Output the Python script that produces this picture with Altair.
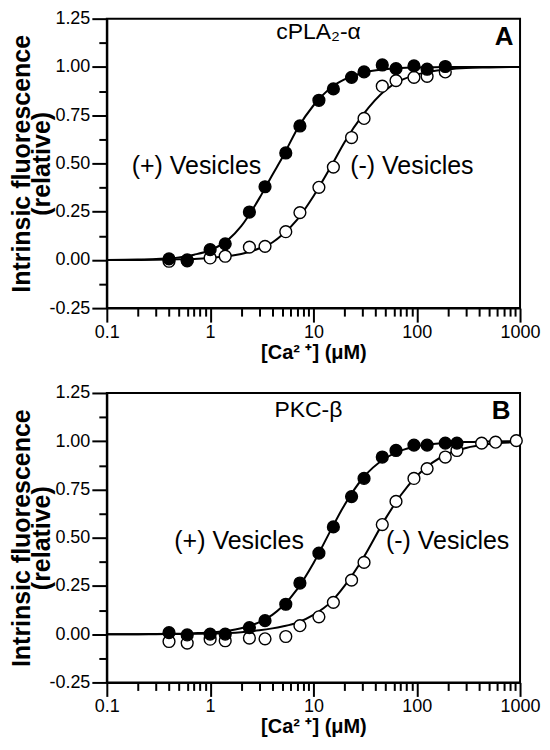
import altair as alt
import pandas as pd

FONT = "Liberation Sans"

# ---------------- data ----------------
# [Ca2+] (uM) at which points were measured
pts_x = [0.4, 0.6, 1.0, 1.4, 2.4, 3.4, 5.4, 7.4, 11.3, 15.6, 23.4, 30.9, 46.4,
         63, 94, 126, 189, 245, 425, 580, 920]

# Panel A (cPLA2-alpha)
a_plus_y = [0.005, 0.0, 0.053, 0.083, 0.248, 0.379, 0.554, 0.694, 0.827, 0.886,
            0.946, 0.974, 1.010, 0.991, 1.005, 0.988, 1.002]
a_minus_y = [-0.007, -0.005, 0.01, 0.019, 0.066, 0.07, 0.146, 0.245, 0.376, 0.481,
             0.634, 0.733, 0.90, 0.929, 0.946, 0.951, 0.974]

# Panel B (PKC-beta)
b_plus_y = [0.008, -0.004, 0.0, 0.0, 0.034, 0.07, 0.155, 0.265, 0.42, 0.556,
            0.713, 0.807, 0.918, 0.952, 0.98, 0.98, 0.99, 0.99]
b_minus_y = [-0.038, -0.046, -0.026, -0.034, -0.02, -0.024, -0.012, 0.044, 0.09,
             0.165, 0.28, 0.372, 0.568, 0.688, 0.807, 0.858, 0.918, 0.952, 0.99,
             0.995, 1.003]

# fitted curves
curve_x = [0.1, 0.2, 0.3, 0.5, 0.7, 1, 1.5, 2, 3, 4, 5, 7, 10, 15, 20, 30, 50,
           70, 100, 200, 300, 500, 1000]
a_plus_curve = [0.0, 0.002, 0.005, 0.013, 0.027, 0.05, 0.105, 0.175, 0.32, 0.44,
                0.53, 0.68, 0.80, 0.895, 0.935, 0.97, 0.988, 0.994, 0.997, 1.0,
                1.0, 1.0, 1.0]
a_minus_curve = [0.0, 0.0, 0.001, 0.003, 0.005, 0.01, 0.02, 0.03, 0.06, 0.09,
                 0.13, 0.21, 0.33, 0.49, 0.61, 0.75, 0.88, 0.93, 0.96, 0.987,
                 0.994, 0.997, 1.0]
b_plus_curve = [0.0, 0.0, 0.001, 0.002, 0.005, 0.009, 0.018, 0.031, 0.062, 0.10,
                0.143, 0.235, 0.368, 0.547, 0.67, 0.808, 0.913, 0.951, 0.974,
                0.992, 0.996, 0.998, 1.0]
b_minus_curve = [0.0, 0.0, 0.0, 0.001, 0.002, 0.003, 0.006, 0.01, 0.02, 0.03,
                 0.04, 0.06, 0.10, 0.17, 0.25, 0.39, 0.60, 0.72, 0.82, 0.935,
                 0.965, 0.985, 0.996]

# axis ticks
x_tick_values = [0.1, 0.2, 0.3, 0.4, 0.5, 0.6, 0.7, 0.8, 0.9,
                 1, 2, 3, 4, 5, 6, 7, 8, 9,
                 10, 20, 30, 40, 50, 60, 70, 80, 90,
                 100, 200, 300, 400, 500, 600, 700, 800, 900, 1000]
x_label_values = [0.1, 1, 10, 100, 1000]
y_tick_values = [-0.25, -0.125, 0.0, 0.125, 0.25, 0.375, 0.5, 0.625, 0.75,
                 0.875, 1.0, 1.125, 1.25]

# annotations
a_titles = ["cPLA₂-α", "A"]
a_title_x = [11.2, 700]
a_title_y = [1.143, 1.112]
a_labels = ["(+) Vesicles", "(-) Vesicles"]
a_label_x = [0.174, 22.7]
a_label_y = [0.444, 0.444]

b_titles = ["PKC-β", "B"]
b_title_x = [8.95, 656]
b_title_y = [1.126, 1.114]
b_labels = ["(+) Vesicles", "(-) Vesicles"]
b_label_x = [0.45, 50.4]
b_label_y = [0.440, 0.440]

# ---------------- chart ----------------
is_major_x = "indexof(" + str(x_label_values) + ", datum.value) >= 0"
is_major_y = "abs(datum.value * 4 - round(datum.value * 4)) < 0.000001"

xaxis = alt.Axis(
    values=x_tick_values, format="~g",
    labelExpr=is_major_x + " ? datum.label : ''",
    tickSize={"condition": {"test": is_major_x, "value": 14}, "value": 8},
    labelOverlap=False, labelFlush=False, grid=False,
    labelFontSize=18, labelPadding=1,
    title="[Ca² ⁺] (μM)", titleFontSize=20, titleFontWeight="bold", titlePadding=1,
)
yaxis = alt.Axis(
    values=y_tick_values,
    labelExpr=is_major_y + " ? replace(format(datum.value, '.2f'), '−', '-') : ''",
    tickSize={"condition": {"test": is_major_y, "value": 15}, "value": 8},
    labelOverlap=False, labelFlush=False, grid=False,
    labelFontSize=18, labelPadding=2,
    title=["Intrinsic  fluorescence", "(relative)"], titleFontSize=25,
    titleFontWeight="bold", titleLineHeight=20, titlePadding=-6,
)

xs = alt.Scale(type="log", domain=[0.1, 1000], nice=False)
ys = alt.Scale(domain=[-0.25, 1.25], nice=False, zero=False)


def panel(plus_y, minus_y, plus_curve, minus_curve, titles, tx, ty, labels, lx, ly):
    curves = pd.DataFrame({
        "x": curve_x * 2,
        "y": plus_curve + minus_curve,
        "s": ["plus"] * len(curve_x) + ["minus"] * len(curve_x),
    })
    plus = pd.DataFrame({"x": pts_x[:len(plus_y)], "y": plus_y})
    minus = pd.DataFrame({"x": pts_x[:len(minus_y)], "y": minus_y})
    tdf = pd.DataFrame({"x": tx, "y": ty, "t": titles})
    ldf = pd.DataFrame({"x": lx, "y": ly, "t": labels})

    X = alt.X("x:Q", scale=xs, axis=xaxis)
    Y = alt.Y("y:Q", scale=ys, axis=yaxis)

    lines = alt.Chart(curves).mark_line(
        color="black", strokeWidth=2, interpolate="monotone"
    ).encode(x=X, y=Y, detail="s:N")
    open_pts = alt.Chart(minus).mark_point(
        shape="circle", filled=True, fill="white", stroke="black",
        strokeWidth=1.4, size=140, opacity=1
    ).encode(x=X, y=Y)
    filled_pts = alt.Chart(plus).mark_point(
        shape="circle", filled=True, fill="black", stroke="black",
        strokeWidth=1.4, size=140, opacity=1
    ).encode(x=X, y=Y)
    name_txt = alt.Chart(tdf.iloc[[0]]).mark_text(
        font=FONT, fontSize=23, align="center", baseline="alphabetic", color="black"
    ).encode(x=X, y=Y, text="t:N")
    letter_txt = alt.Chart(tdf.iloc[[1]]).mark_text(
        font=FONT, fontSize=26, fontWeight="bold", align="center",
        baseline="alphabetic", color="black"
    ).encode(x=X, y=Y, text="t:N")
    lab_txt = alt.Chart(ldf).mark_text(
        font=FONT, fontSize=25, align="left", baseline="alphabetic", color="black"
    ).encode(x=X, y=Y, text="t:N")

    return alt.layer(lines, open_pts, filled_pts, name_txt, letter_txt, lab_txt).properties(
        width=414, height=290
    )


pA = panel(a_plus_y, a_minus_y, a_plus_curve, a_minus_curve,
           a_titles, a_title_x, a_title_y, a_labels, a_label_x, a_label_y)
pB = panel(b_plus_y, b_minus_y, b_plus_curve, b_minus_curve,
           b_titles, b_title_x, b_title_y, b_labels, b_label_x, b_label_y)

chart = alt.vconcat(pA, pB, spacing=20).properties(
    padding={"left": 0, "top": 0, "right": 0, "bottom": 0}
).configure_view(
    stroke="black", strokeWidth=2
).configure_axis(
    domainColor="black", domainWidth=2, tickColor="black", tickWidth=2,
    labelColor="black", titleColor="black", labelFont=FONT, titleFont=FONT,
)

chart.save("out.html", embed_options={"renderer": "svg", "actions": False})
